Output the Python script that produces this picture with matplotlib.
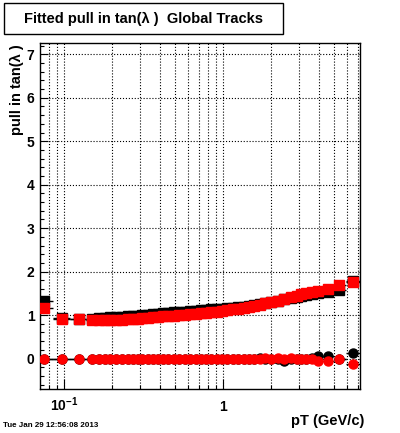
"""
Fitted pull in tan(lambda) vs pT for global tracks, redrawn from a ROOT canvas.
"""
import numpy as np
import matplotlib
matplotlib.use("Agg")
import matplotlib.pyplot as plt
from matplotlib.patches import Rectangle
from matplotlib.ticker import FixedLocator, FixedFormatter, MultipleLocator

plt.rcParams['font.family'] = ['Liberation Sans', 'DejaVu Sans']
plt.rcParams['font.weight'] = 'bold'
plt.rcParams['mathtext.fontset'] = 'custom'
plt.rcParams['mathtext.rm'] = 'Liberation Sans:bold'
plt.rcParams['mathtext.bf'] = 'Liberation Sans:bold'
plt.rcParams['mathtext.it'] = 'Liberation Sans:bold'

# bin centres in pT (GeV/c)
pt = [0.075, 0.096, 0.124, 0.15, 0.165, 0.18, 0.195, 0.21, 0.23, 0.25,
      0.27, 0.29, 0.31, 0.335, 0.36, 0.39, 0.42, 0.45, 0.49, 0.53,
      0.57, 0.62, 0.67, 0.72, 0.78, 0.84, 0.91, 0.98, 1.06, 1.15,
      1.24, 1.34, 1.45, 1.57, 1.7, 1.84, 2.0, 2.2, 2.4, 2.65,
      2.9, 3.1, 3.3, 3.6, 3.95, 4.55, 5.35, 6.55]

# fitted width of the pull (squares)
sigma_black = [1.32, 0.93, 0.91, 0.92, 0.93, 0.94, 0.95, 0.96, 0.965, 0.97,
               0.98, 0.99, 1.00, 1.01, 1.02, 1.03, 1.04, 1.05, 1.06, 1.07,
               1.08, 1.09, 1.10, 1.11, 1.12, 1.13, 1.14, 1.15, 1.16, 1.17,
               1.18, 1.19, 1.21, 1.23, 1.25, 1.27, 1.30, 1.33, 1.36, 1.39,
               1.42, 1.44, 1.46, 1.49, 1.52, 1.53, 1.57, 1.78]
sigma_red = [1.16, 0.92, 0.90, 0.88, 0.88, 0.885, 0.89, 0.89, 0.895, 0.90,
             0.91, 0.92, 0.93, 0.94, 0.95, 0.96, 0.97, 0.98, 0.99, 1.00,
             1.01, 1.02, 1.03, 1.04, 1.05, 1.07, 1.08, 1.10, 1.11, 1.13,
             1.15, 1.17, 1.19, 1.21, 1.24, 1.27, 1.30, 1.33, 1.37, 1.41,
             1.45, 1.48, 1.50, 1.53, 1.56, 1.61, 1.69, 1.76]

# fitted mean of the pull (circles)
mean_black = [0.0, 0.0, 0.0, 0.0, 0.0, 0.0, 0.0, 0.0, 0.0, 0.0,
              0.0, 0.0, 0.0, 0.0, 0.0, 0.0, 0.0, 0.0, 0.0, 0.0,
              0.0, 0.0, 0.0, 0.0, 0.0, 0.0, 0.0, 0.0, 0.0, 0.0,
              0.0, 0.0, 0.0, 0.0, 0.01, 0.0, 0.0, 0.0, -0.06, 0.0,
              -0.01, 0.0, 0.0, 0.02, 0.05, 0.05, 0.0, 0.12]
mean_red = [0.0, 0.0, 0.0, 0.0, 0.0, 0.0, 0.0, 0.0, 0.0, 0.0,
            0.0, 0.0, 0.0, 0.0, 0.0, 0.0, 0.0, 0.0, 0.0, 0.0,
            0.0, 0.0, 0.0, 0.0, 0.0, 0.0, 0.0, 0.0, 0.0, 0.0,
            0.0, 0.0, 0.0, 0.0, 0.0, 0.01, 0.0, 0.02, 0.0, 0.01,
            -0.01, -0.01, -0.02, -0.01, -0.05, -0.05, 0.0, -0.13]

x_ticks = [0.1, 1.0]
x_ticklabels = [r'$10^{-1}$', '1']
y_ticks = [0, 1, 2, 3, 4, 5, 6, 7]

# bin edges half way between centres
pt_arr = np.array(pt)
edges = np.concatenate(([0.065], np.sqrt(pt_arr[:-1] * pt_arr[1:]), [7.6]))
xerr = [pt_arr - edges[:-1], edges[1:] - pt_arr]

fig = plt.figure(figsize=(4.0, 4.33), dpi=100)
ax = fig.add_axes([40 / 400, 1 - 389 / 433, 320 / 400, 346 / 433])

for sig, mu, col in [(sigma_black, mean_black, 'black'), (sigma_red, mean_red, 'red')]:
    ax.errorbar(pt, sig, xerr=xerr, fmt='s', color=col, ecolor='black',
                elinewidth=1, capsize=0, ms=7.5, mec=col, zorder=3)
    ax.errorbar(pt, mu, xerr=xerr, fmt='o', color=col, ecolor='black',
                elinewidth=1, capsize=0, ms=6.5, mec=col, zorder=3)

ax.set_xscale('log')
ax.set_xlim(0.0703, 7.24)
ax.set_ylim(-0.70, 7.26)

ax.xaxis.set_major_locator(FixedLocator(x_ticks))
ax.xaxis.set_major_formatter(FixedFormatter(x_ticklabels))
ax.yaxis.set_major_locator(FixedLocator(y_ticks))
ax.yaxis.set_minor_locator(MultipleLocator(0.2))

ax.tick_params(which='both', direction='in', top=False, right=False, width=0.8)
ax.tick_params(axis='y', which='major', length=6, pad=4, labelsize=10)
ax.tick_params(axis='y', which='minor', length=3)
ax.tick_params(axis='x', which='major', length=7, pad=16, labelsize=10)
ax.tick_params(axis='x', which='minor', length=3)
for lab in ax.get_xticklabels():
    lab.set_verticalalignment('baseline')

ax.xaxis.grid(True, which='both', ls=':', color='black', lw=0.8)
ax.yaxis.grid(True, which='major', ls=':', color='black', lw=0.8)
ax.set_axisbelow(True)
for sp in ax.spines.values():
    sp.set_linewidth(1)

# title box
fig.patches.append(Rectangle((4 / 400, 1 - 34 / 433), 279 / 400, 31 / 433,
                             transform=fig.transFigure, fill=False,
                             edgecolor='black', lw=1))
fig.text(143.5 / 400, 1 - 18.5 / 433, 'Fitted pull in tan(λ )  Global Tracks',
         ha='center', va='center', fontsize=10.5, fontweight='bold')

fig.text(17 / 400, 1 - 44 / 433, 'pull in tan(λ )', rotation=90,
         ha='center', va='top', fontsize=10.5, fontweight='bold')
fig.text(364 / 400, 1 - 425 / 433, 'pT (GeV/c)', ha='right', va='baseline',
         fontsize=10.5, fontweight='bold')
fig.text(3 / 400, 1 - 427 / 433, 'Tue Jan 29 12:56:08 2013', ha='left',
         va='baseline', fontsize=5.8, fontweight='bold')

fig.savefig('out.png', dpi=100)
